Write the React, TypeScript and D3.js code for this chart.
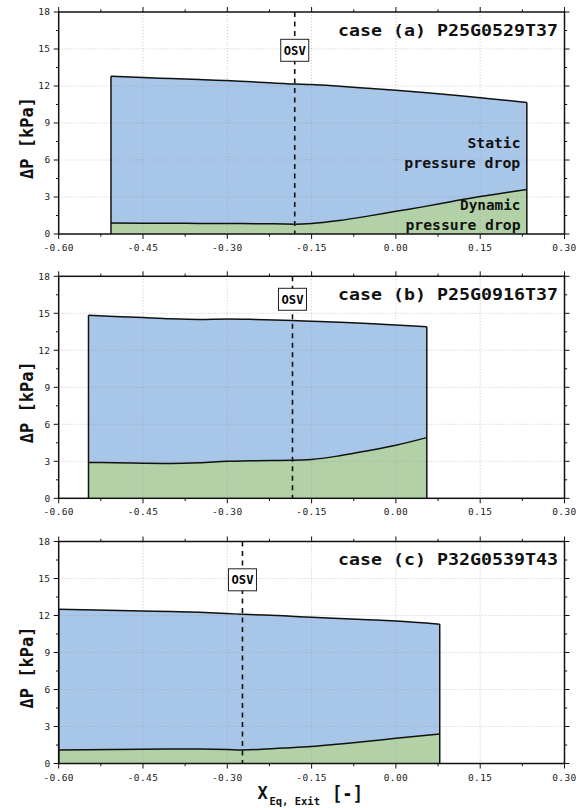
import React from "react";
import * as d3 from "d3";

// ---------- data ----------
const xTickValues = [-0.6, -0.45, -0.3, -0.15, 0.0, 0.15, 0.3];
const yTickValues = [0, 3, 6, 9, 12, 15, 18];

const caseTitles = ["case (a) P25G0529T37", "case (b) P25G0916T37", "case (c) P32G0539T43"];
const osvX = [-0.18, -0.184, -0.273];

const xA = [-0.507, -0.45, -0.4, -0.35, -0.3, -0.25, -0.18, -0.15, -0.1, -0.05, 0.0, 0.05, 0.1, 0.15, 0.2, 0.233];
const totalA = [12.79, 12.68, 12.6, 12.52, 12.45, 12.33, 12.16, 12.12, 11.98, 11.82, 11.66, 11.48, 11.27, 11.04, 10.82, 10.66];
const dynA = [0.89, 0.88, 0.87, 0.86, 0.85, 0.84, 0.8, 0.85, 1.1, 1.45, 1.84, 2.22, 2.64, 3.04, 3.38, 3.6];

const xB = [-0.547, -0.5, -0.45, -0.4, -0.35, -0.3, -0.25, -0.184, -0.15, -0.1, -0.05, 0.0, 0.055];
const totalB = [14.84, 14.75, 14.65, 14.55, 14.5, 14.54, 14.5, 14.41, 14.36, 14.28, 14.18, 14.05, 13.9];
const dynB = [2.91, 2.88, 2.85, 2.83, 2.88, 3.0, 3.05, 3.08, 3.15, 3.45, 3.85, 4.3, 4.92];

const xC = [-0.6, -0.45, -0.4, -0.35, -0.3, -0.273, -0.2, -0.15, -0.1, -0.05, 0.0, 0.078];
const totalC = [12.5, 12.37, 12.32, 12.26, 12.16, 12.1, 11.97, 11.86, 11.76, 11.66, 11.55, 11.3];
const dynC = [1.1, 1.16, 1.18, 1.17, 1.13, 1.1, 1.25, 1.37, 1.58, 1.8, 2.05, 2.4];

const panelData = [
  { x: xA, total: totalA, dyn: dynA },
  { x: xB, total: totalB, dyn: dynB },
  { x: xC, total: totalC, dyn: dynC },
];

// ---------- layout ----------
const W = 584;
const H = 808;
const LEFT = 58.7;
const RIGHT = 564.5;
const PANEL_H = 222;
const panelTops = [12, 276.3, 541.5];

const BLUE = "#a8c6e8";
const GREEN = "#b3d1a6";
const MONO = "'DejaVu Sans Mono', 'Liberation Mono', monospace";

function Panel({ idx }: { idx: number }) {
  const top = panelTops[idx];
  const bottom = top + PANEL_H;
  const d = panelData[idx];
  const x = d3.scaleLinear().domain([-0.6, 0.3]).range([LEFT, RIGHT]);
  const y = d3.scaleLinear().domain([0, 18]).range([bottom, top]);
  const pts = d.x.map((v, i) => ({ x: v, t: d.total[i], g: d.dyn[i] }));

  const curve = d3.curveMonotoneX;
  const blueArea = d3.area<any>().x((p) => x(p.x)).y0((p) => y(p.g)).y1((p) => y(p.t)).curve(curve)(pts) || "";
  const greenArea = d3.area<any>().x((p) => x(p.x)).y0(() => y(0)).y1((p) => y(p.g)).curve(curve)(pts) || "";
  const topLine = d3.line<any>().x((p) => x(p.x)).y((p) => y(p.t)).curve(curve)(pts) || "";
  const dynLine = d3.line<any>().x((p) => x(p.x)).y((p) => y(p.g)).curve(curve)(pts) || "";

  const x0 = x(d.x[0]);
  const x1 = x(d.x[d.x.length - 1]);

  const xMinor = d3.range(-0.6, 0.3001, 0.075);
  const yMinor = d3.range(0, 18.001, 1.5);
  const gridX = xTickValues.slice(1, -1);
  const gridY = yTickValues.slice(1, -1);
  const osv = x(osvX[idx]);
  const boxTop = top + (idx === 1 ? 12 : 27.3);

  return (
    <g>
      <path d={greenArea} fill={GREEN} />
      <path d={blueArea} fill={BLUE} />
      {/* grid */}
      {gridX.map((v) => (
        <line key={"gx" + v} x1={x(v)} x2={x(v)} y1={top} y2={bottom} stroke="#9a9a9a" strokeOpacity={0.55} strokeWidth={1} strokeDasharray="1,2" />
      ))}
      {gridY.map((v) => (
        <line key={"gy" + v} x1={LEFT} x2={RIGHT} y1={y(v)} y2={y(v)} stroke="#9a9a9a" strokeOpacity={0.55} strokeWidth={1} strokeDasharray="1,2" />
      ))}
      <path d={topLine} fill="none" stroke="#111" strokeWidth={1.5} />
      <path d={dynLine} fill="none" stroke="#111" strokeWidth={1.5} />
      <line x1={x0} x2={x0} y1={y(0)} y2={y(d.total[0])} stroke="#111" strokeWidth={1.5} />
      <line x1={x1} x2={x1} y1={y(0)} y2={y(d.total[d.total.length - 1])} stroke="#111" strokeWidth={1.5} />

      {/* OSV */}
      <line x1={osv} x2={osv} y1={top} y2={bottom} stroke="#111" strokeWidth={1.6} strokeDasharray="5,4.5" />
      <rect x={osv - 14} y={boxTop} width={28} height={22} fill="#fff" stroke="#222" strokeWidth={1} />
      <text x={osv - 11} y={boxTop + 15.5} textLength={22} lengthAdjust="spacingAndGlyphs" fontFamily={MONO} fontWeight="bold" fontSize={11.5}>OSV</text>

      {/* frame */}
      <rect x={LEFT} y={top} width={RIGHT - LEFT} height={PANEL_H} fill="none" stroke="#111" strokeWidth={1.5} />

      {/* ticks */}
      {xMinor.map((v, i) => {
        const major = i % 2 === 0;
        const len = major ? 5 : 2.7;
        return (
          <g key={"xt" + i}>
            <line x1={x(v)} x2={x(v)} y1={bottom} y2={bottom + len} stroke="#111" strokeWidth={1} />
            <line x1={x(v)} x2={x(v)} y1={top} y2={top - len} stroke="#111" strokeWidth={1} />
          </g>
        );
      })}
      {yMinor.map((v, i) => {
        const major = i % 2 === 0;
        const len = major ? 5 : 2.7;
        return (
          <g key={"yt" + i}>
            <line x1={LEFT} x2={LEFT - len} y1={y(v)} y2={y(v)} stroke="#111" strokeWidth={1} />
            <line x1={RIGHT} x2={RIGHT + len} y1={y(v)} y2={y(v)} stroke="#111" strokeWidth={1} />
          </g>
        );
      })}
      {xTickValues.map((v) => (
        <text key={"xl" + v} x={x(v)} y={bottom + 17} textAnchor="middle" fontFamily={MONO} fontSize={9.5} letterSpacing={0.4} fill="#222">
          {d3.format(".2f")(v).replace("−", "-")}
        </text>
      ))}
      {yTickValues.map((v) => (
        <text key={"yl" + v} x={50.5} y={y(v)} dy="0.35em" textAnchor="end" fontFamily={MONO} fontSize={9.5} letterSpacing={0.4} fill="#222">
          {v}
        </text>
      ))}

      {/* title */}
      <text x={338} y={top + 23.5} textLength={220} lengthAdjust="spacingAndGlyphs" fontFamily={MONO} fontWeight="bold" fontSize={16.5} fill="#111">
        {caseTitles[idx]}
      </text>

      {/* y label */}
      <text transform={`translate(33, ${top + 126}) rotate(-90)`} textAnchor="middle" fontFamily={MONO} fontWeight="bold" fontSize={17} fill="#111">
        ΔP [kPa]
      </text>

      {idx === 0 && (
        <g fontFamily={MONO} fontWeight="bold" fontSize={14.5} fill="#111">
          <text x={467.5} y={top + 136.3} textLength={53} lengthAdjust="spacingAndGlyphs">Static</text>
          <text x={404.3} y={top + 156} textLength={116} lengthAdjust="spacingAndGlyphs">pressure drop</text>
          <text x={460} y={top + 198} textLength={60.5} lengthAdjust="spacingAndGlyphs">Dynamic</text>
          <text x={405.5} y={top + 217.5} textLength={115} lengthAdjust="spacingAndGlyphs">pressure drop</text>
        </g>
      )}
    </g>
  );
}

export default function App() {
  return (
    <svg width={W} height={H} style={{ position: "absolute", left: 0, top: 0, background: "#fff" }}>
      <rect x={0} y={0} width={W} height={H} fill="#fff" />
      {[0, 1, 2].map((i) => (
        <Panel key={i} idx={i} />
      ))}
      <g fontFamily={MONO} fontWeight="bold" fill="#111">
        <text x={257.5} y={798.5} fontSize={17}>X</text>
        <text x={269.5} y={805} fontSize={10.5} textLength={50.5} lengthAdjust="spacingAndGlyphs">Eq, Exit</text>
        <text x={332} y={799.5} fontSize={20} textLength={31} lengthAdjust="spacingAndGlyphs">[-]</text>
      </g>
    </svg>
  );
}
